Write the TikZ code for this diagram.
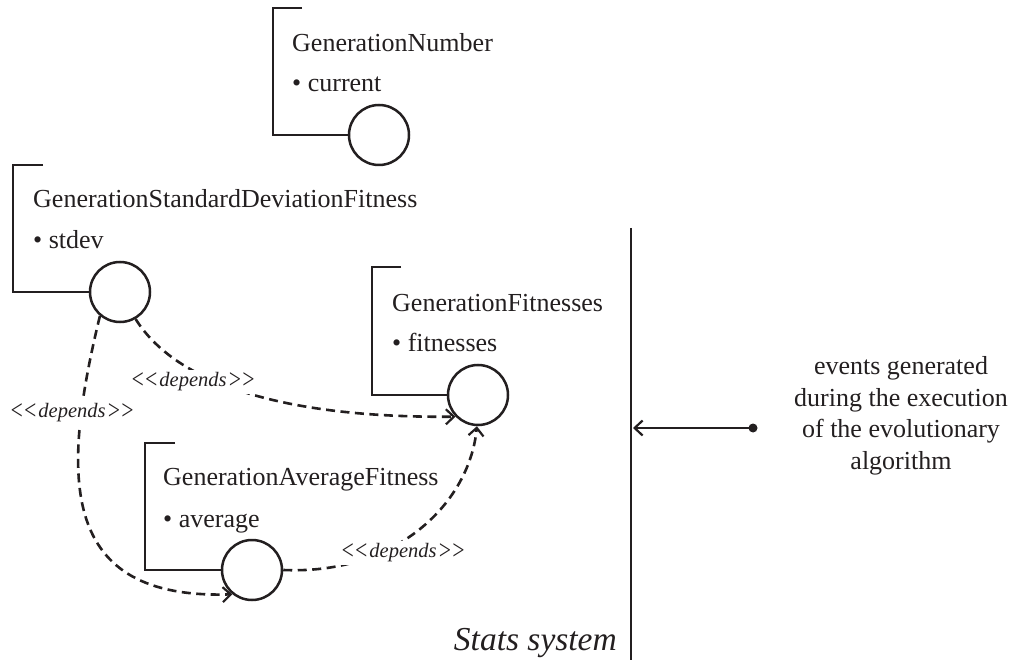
\documentclass[tikz,border=0pt]{standalone}
\usepackage{fontspec}
\usepackage{graphicx}
\setmainfont{Liberation Serif}
\usetikzlibrary{arrows.meta}
\definecolor{ink}{HTML}{231F20}
\newcommand\bigless{\raisebox{-2pt}{\scalebox{1.05}[1.35]{\textless}}}
\newcommand\biggreater{\raisebox{-2pt}{\scalebox{1.05}[1.35]{\textgreater}}}
\newcommand\stereotxt[1]{\bigless\kern-1pt\bigless\kern1pt #1\kern1pt\biggreater\kern-1pt\biggreater}
\begin{document}
\begin{tikzpicture}[x=1pt,y=-1pt,
  every node/.style={text=ink},
  iface/.style={circle,draw=ink,line width=2.5pt,minimum size=60pt,inner sep=0pt},
  bracketline/.style={draw=ink,line width=2.5pt},
  title/.style={anchor=base west,inner sep=0pt,font=\fontsize{26}{30}\selectfont},
  dep/.style={draw=ink,line width=2.6pt,dash pattern=on 9pt off 5.5pt,-{Straight Barb[length=8pt,width=15pt,line width=2.2pt]}},
  stereo/.style={fill=white,inner sep=3pt,font=\itshape\fontsize{20.5}{24}\selectfont}]
\useasboundingbox (0,0) rectangle (1015,660);

% GenerationNumber
\node[iface] (gnC) at (379,135) {};
\coordinate (gnT) at (302,8);
\coordinate (gnTL) at (273,8);
\coordinate (gnBL) at (273,135);
\draw[bracketline] (gnT) -- (gnTL) -- (gnBL) -- (gnC.west);
\node[title] (gnN) at (292,52) {GenerationNumber};
\node[title] (gnA) at (292,92) {\textbullet\ current};

% GenerationStandardDeviationFitness
\node[iface] (sdC) at (120,292) {};
\coordinate (sdT) at (43,165);
\coordinate (sdTL) at (13,165);
\coordinate (sdBL) at (13,292);
\draw[bracketline] (sdT) -- (sdTL) -- (sdBL) -- (sdC.west);
\node[title] (sdN) at (33,208) {GenerationStandardDeviationFitness};
\node[title] (sdA) at (33,249) {\textbullet\ stdev};

% GenerationFitnesses
\node[iface] (fC) at (478,395) {};
\coordinate (fT) at (401,267);
\coordinate (fTL) at (372,267);
\coordinate (fBL) at (372,395);
\draw[bracketline] (fT) -- (fTL) -- (fBL) -- (fC.west);
\node[title] (fN) at (392,312) {GenerationFitnesses};
\node[title] (fA) at (392,352) {\textbullet\ fitnesses};

% GenerationAverageFitness
\node[iface] (aC) at (252,570) {};
\coordinate (aT) at (175,443);
\coordinate (aTL) at (145,443);
\coordinate (aBL) at (145,570);
\draw[bracketline] (aT) -- (aTL) -- (aBL) -- (aC.west);
\node[title] (aN) at (163,485) {GenerationAverageFitness};
\node[title] (aA) at (163,527) {\textbullet\ average};

% dependencies
\draw[dep] (sdC.-60) .. controls (180,390) and (300,418) .. (fC.224);
\node[stereo] (l1) at (193,382) {\stereotxt{depends}};
\draw[dep] (sdC.230) .. controls (60,480) and (60,600) .. (aC.231);
\node[stereo] (l2) at (72,413) {\stereotxt{depends}};
\draw[dep] (aC.east) .. controls (400,575) and (470,500) .. (fC.-92);
\node[stereo] (l3) at (403,553) {\stereotxt{depends}};

% system boundary
\coordinate (vt) at (631,228);
\coordinate (vb) at (631,660);
\draw[draw=ink,line width=2.6pt] (vt) -- (vb);
\node[anchor=base east,inner sep=0pt,font=\itshape\fontsize{33.5}{40}\selectfont] (ss) at (617,650) {Stats system};

% events
\node[circle,fill=ink,inner sep=0pt,minimum size=9pt] (dot) at (753,428) {};
\coordinate (hit) at (633,428);
\draw[draw=ink,line width=2.4pt,-{Straight Barb[length=8pt,width=15pt,line width=2.2pt]}] (dot.center) -- (hit);
\node[align=center,inner sep=0pt,font=\fontsize{26}{31.5}\selectfont] (ev) at (901,416) {events generated\\during the execution\\of the evolutionary\\algorithm};
\end{tikzpicture}
\end{document}
